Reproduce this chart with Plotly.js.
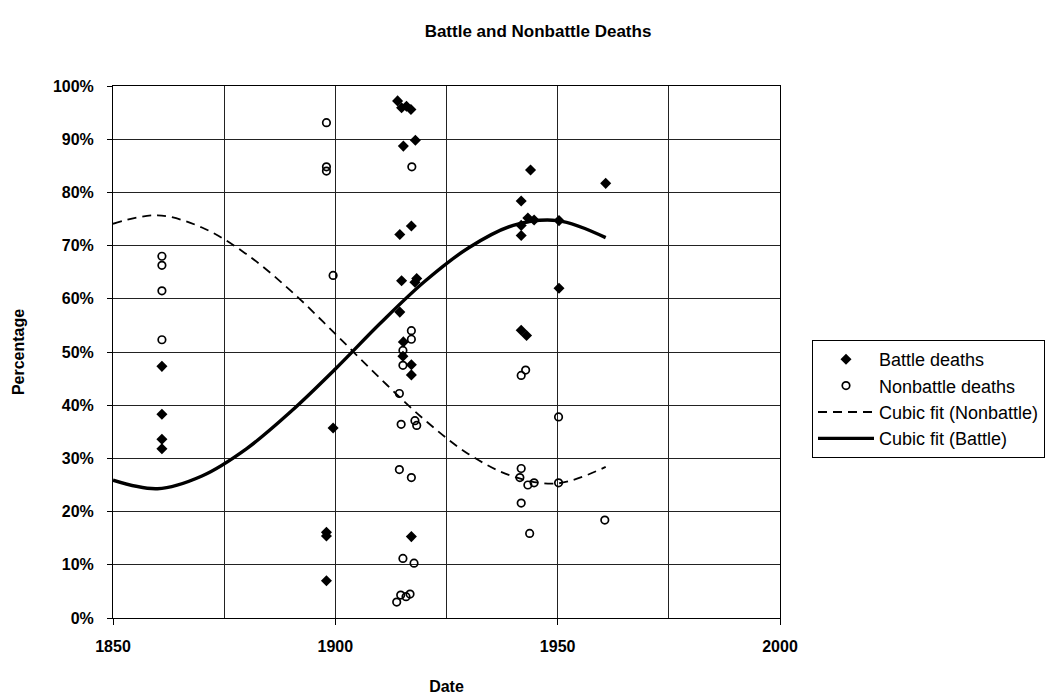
<!DOCTYPE html>
<html>
<head>
<meta charset="utf-8">
<script src="https://cdn.plot.ly/plotly-3.0.1.min.js"></script>
<style>html,body{margin:0;padding:0;background:#fff;}#chart{width:1047px;height:698px;}</style>
</head>
<body>
<div id="chart"></div>
<script>
// Battle deaths (date, percentage)
const battleYears = [1861, 1861, 1861, 1861, 1898, 1898, 1898, 1899.5,
  1914.0, 1914.9, 1916.0, 1917.0, 1918.0, 1915.3, 1917.1, 1914.5, 1914.9, 1917.9, 1918.3, 1914.5,
  1915.3, 1915.2, 1917.1, 1917.1, 1917.1,
  1941.8, 1943.9, 1943.3, 1944.7, 1941.8, 1941.8, 1941.8, 1943.0, 1950.3, 1950.3, 1960.8];
const battlePct = [47.3, 38.3, 33.6, 31.8, 16.1, 15.4, 7.0, 35.7,
  97.2, 95.9, 96.2, 95.6, 89.8, 88.7, 73.7, 72.1, 63.4, 63.1, 63.8, 57.5,
  51.9, 49.2, 47.6, 45.7, 15.3,
  78.4, 84.2, 75.2, 74.8, 73.8, 71.9, 54.1, 53.1, 74.7, 62.0, 81.7];

// Nonbattle deaths (date, percentage)
const nonbattleYears = [1861, 1861, 1861, 1861, 1898, 1898, 1898, 1899.5,
  1913.8, 1914.7, 1915.9, 1916.8, 1917.7, 1915.2, 1917.1, 1914.4, 1914.8, 1917.9, 1918.3, 1914.4,
  1915.2, 1915.2, 1917.1, 1917.1, 1917.2,
  1941.8, 1943.7, 1943.3, 1944.7, 1941.5, 1941.8, 1941.8, 1942.8, 1950.2, 1950.2, 1960.6];
const nonbattlePct = [68.0, 66.3, 61.5, 52.3, 93.1, 84.8, 84.0, 64.4,
  3.0, 4.3, 4.0, 4.5, 10.3, 11.2, 26.4, 27.9, 36.4, 37.1, 36.2, 42.2,
  47.5, 50.3, 52.4, 54.0, 84.8,
  21.6, 15.9, 25.0, 25.4, 26.4, 28.1, 45.6, 46.6, 25.4, 37.8, 18.4];

// Cubic trendlines, values
const battleFitYears = [1850, 1860, 1870, 1880, 1890, 1900, 1910, 1920, 1930, 1940, 1950, 1960.8];
const battleFitPct   = [25.9, 24.3, 26.7, 31.8, 38.8, 46.8, 55.3, 63.2, 69.6, 73.8, 74.7, 71.5];
const nonbattleFitYears = [1850, 1860, 1870, 1880, 1890, 1900, 1910, 1920, 1930, 1940, 1950, 1960.8];
const nonbattleFitPct   = [74.1, 75.7, 73.4, 68.4, 61.5, 53.4, 45.1, 37.3, 30.8, 26.6, 25.3, 28.4];

const xTickVals = [1850, 1900, 1950, 2000];
const yTickVals = [0, 10, 20, 30, 40, 50, 60, 70, 80, 90, 100];

const FONT = 'Liberation Sans, Arial, sans-serif';

const traces = [
  {x: battleYears, y: battlePct, mode: 'markers', type: 'scatter', name: 'Battle deaths',
   legendgroup: 'a',
   marker: {symbol: 'diamond', size: 8.5, color: '#000'}},
  {x: nonbattleYears, y: nonbattlePct, mode: 'markers', type: 'scatter', name: 'Nonbattle deaths',
   legendgroup: 'b',
   marker: {symbol: 'circle-open', size: 7.5, color: '#000', line: {width: 1.7, color: '#000'}}},
  {x: nonbattleFitYears, y: nonbattleFitPct, mode: 'lines', type: 'scatter', name: 'Cubic fit (Nonbattle)',
   legendgroup: 'c',
   line: {color: '#000', width: 1.8, dash: '9px,6px', shape: 'spline', smoothing: 1}},
  {x: battleFitYears, y: battleFitPct, mode: 'lines', type: 'scatter', name: 'Cubic fit (Battle)',
   legendgroup: 'd',
   line: {color: '#000', width: 3.4, shape: 'spline', smoothing: 1}}
];

const layout = {
  width: 1047, height: 698,
  margin: {l: 113, r: 267, t: 86, b: 80, autoexpand: false},
  paper_bgcolor: '#fff', plot_bgcolor: '#fff',
  font: {family: FONT, color: '#000', size: 14},
  title: {text: 'Battle and Nonbattle Deaths', x: 538 / 1047, xref: 'container', xanchor: 'center',
    y: 1 - 31 / 698, yref: 'container', yanchor: 'middle',
    font: {family: FONT, size: 17, weight: 'bold', color: '#000'}},
  showlegend: true,
  legend: {x: 812 / 1047, xref: 'container', xanchor: 'left',
    y: 1 - 340 / 698, yref: 'container', yanchor: 'top',
    bordercolor: '#000', borderwidth: 1, bgcolor: '#fff', itemwidth: 56,
    font: {family: FONT, size: 18, color: '#000'}, tracegroupgap: 0,
    traceorder: 'normal'},
  xaxis: {
    range: [1850, 2000], tickvals: xTickVals, ticktext: xTickVals.map(String),
    ticks: 'outside', ticklen: 6, tickcolor: '#000', tickwidth: 1, ticklabelstandoff: 8,
    showline: true, linecolor: '#000', linewidth: 1, mirror: true,
    showgrid: true, gridcolor: '#222', gridwidth: 1,
    minor: {dtick: 25, tick0: 1850, showgrid: true, gridcolor: '#222', gridwidth: 1, ticks: ''},
    zeroline: false,
    tickfont: {family: FONT, size: 16, weight: 'bold', color: '#000'},
    title: {text: 'Date', standoff: 26, font: {family: FONT, size: 16, weight: 'bold', color: '#000'}}
  },
  yaxis: {
    range: [0, 100], tickvals: yTickVals, ticktext: yTickVals.map(v => v + '%'),
    ticks: 'outside', ticklen: 5, tickcolor: '#000', tickwidth: 1, ticklabelstandoff: 10,
    showline: true, linecolor: '#000', linewidth: 1, mirror: true,
    showgrid: true, gridcolor: '#222', gridwidth: 1,
    zeroline: false,
    tickfont: {family: FONT, size: 16, weight: 'bold', color: '#000'},
    title: {text: 'Percentage', standoff: 24, font: {family: FONT, size: 16, weight: 'bold', color: '#000'}}
  }
};

Plotly.newPlot('chart', traces, layout, {displayModeBar: false, staticPlot: true});
</script>
</body>
</html>
